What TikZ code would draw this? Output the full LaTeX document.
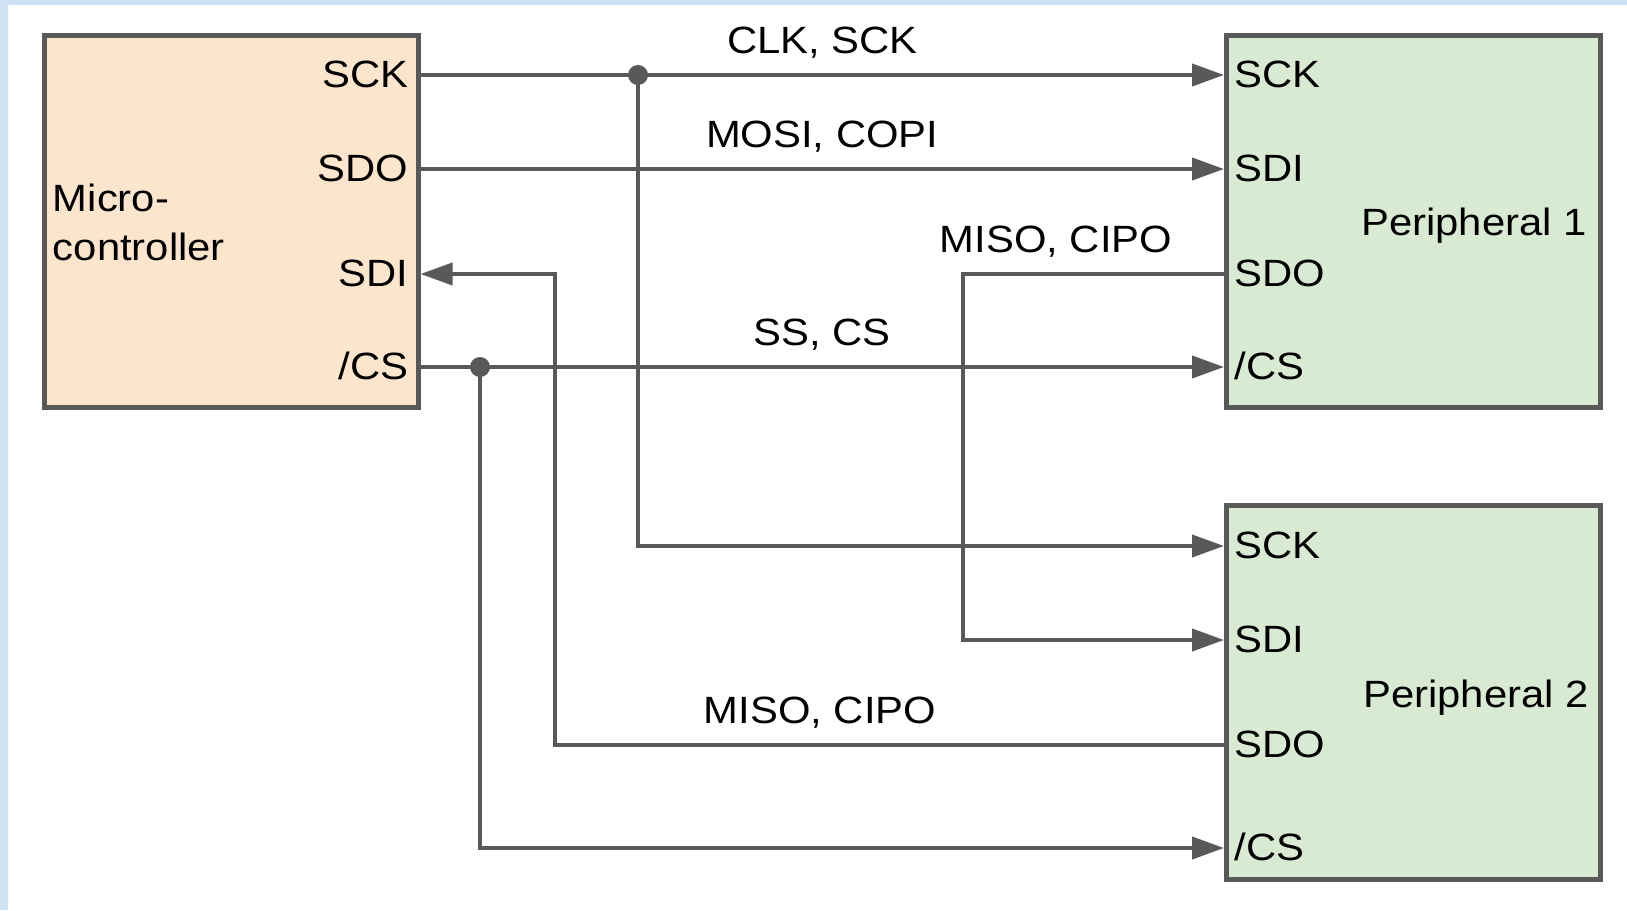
\documentclass[tikz,border=0pt]{standalone}
\usepackage{fontspec}
\setmainfont{Liberation Sans}[FakeStretch=1.1]
\usetikzlibrary{arrows.meta, calc, positioning}
\definecolor{wiregray}{HTML}{595959}
\definecolor{mcufill}{HTML}{FCE5CD}
\definecolor{perifill}{HTML}{D9EAD3}
\definecolor{frameblue}{HTML}{CFE2F3}
\tikzset{
		>={Triangle[length=16pt, width=11pt]},
		chip/.style={draw=wiregray, line width=2.5pt, minimum width=187pt, minimum height=186pt, inner sep=0pt},
		wire/.style={draw=wiregray, line width=2pt},
		pinL/.style={anchor=base east, inner sep=0pt, xshift=-6pt, yshift=-6pt},
		pinR/.style={anchor=base west, inner sep=0pt, xshift=5pt, yshift=-6pt},
		sig/.style={anchor=base, inner sep=0pt, yshift=11pt},
		joint/.style={fill=wiregray}
	}

\begin{document}
\begin{tikzpicture}[x=0.5pt, y=-0.5pt, every node/.style={font=\fontsize{19pt}{24.5pt}\selectfont}]
		% frame
		\useasboundingbox (0,0) rectangle (1627,910);
		\fill[white] (0,0) rectangle (1627,910);
		\fill[frameblue] (0,0) rectangle (8,910) (0,0) rectangle (1627,5);
		% chips
		\node[chip, fill=mcufill] (mc) at (231,221) {};
		\node[chip, fill=perifill] (pa) at (1413.5,221) {};
		\node[chip, fill=perifill, minimum height=187pt] (pb) at (1413.5,692) {};
		\node[anchor=west, align=left, inner sep=0pt, xshift=5.5pt, yshift=-0.5pt] (mcname) at (mc.west) {Micro-\\controller};
		\node[anchor=base east, inner sep=0pt, xshift=-8pt, yshift=-7pt] (paname) at (pa.east) {Peripheral 1};
		\node[anchor=base east, inner sep=0pt, xshift=-7pt, yshift=-7.5pt] (pbname) at (pb.east) {Peripheral 2};
		% pins
		\foreach \pn/\txt/\yy in {SCK/SCK/75, SDO/SDO/169, SDI/SDI/274, CS/{/CS}/367} {
			\coordinate (m\pn) at (mc.east |- 0,\yy);
			\node[pinL] (ml\pn) at (m\pn) {\txt};
		}
		\foreach \pn/\txt/\yy in {SCK/SCK/75, SDI/SDI/169, SDO/SDO/274, CS/{/CS}/367} {
			\coordinate (a\pn) at (pa.west |- 0,\yy);
			\node[pinR] (al\pn) at (a\pn) {\txt};
		}
		\foreach \pn/\txt/\yy in {SCK/SCK/546, SDI/SDI/640, SDO/SDO/745, CS/{/CS}/848} {
			\coordinate (b\pn) at (pb.west |- 0,\yy);
			\node[pinR] (bl\pn) at (b\pn) {\txt};
		}
		% bus columns
		\coordinate (busS) at (480,0);
		\coordinate (busR) at (555,0);
		\coordinate (busC) at (638,0);
		\coordinate (busD) at (963,0);
		% wires
		\draw[wire, ->] (mSCK) -- node[sig] {CLK, SCK} (aSCK);
		\draw[wire, ->] (mSCK -| busC) |- (bSCK);
		\draw[wire, ->] (mSDO) -- node[sig] {MOSI, COPI} (aSDI);
		\draw[wire, ->] (aSDO) -- node[sig, pos=0.644] {MISO, CIPO} (aSDO -| busD) |- (bSDI);
		\draw[wire, ->] (bSDO) -- node[sig, pos=0.604] {MISO, CIPO} (bSDO -| busR) |- (mSDI);
		\draw[wire, ->] (mCS) -- node[sig] {SS, CS} (aCS);
		\draw[wire, ->] (mCS -| busS) |- (bCS);
		\fill[joint] (mSCK -| busC) circle (5pt);
		\fill[joint] (mCS -| busS) circle (5pt);
	\end{tikzpicture}
\end{document}
